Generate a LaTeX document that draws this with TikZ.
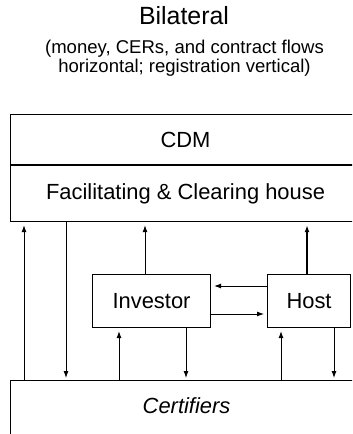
\documentclass[tikz,border=0pt]{standalone}
\usepackage{fontspec}
\setmainfont{Liberation Sans}
\usetikzlibrary{positioning,arrows.meta}

\tikzset{
  box/.style={draw, line width=1.1bp, inner sep=0pt, font=\fontsize{22}{26}\selectfont},
  flow/.style={-{Latex[length=7bp,width=5bp]}, line width=0.9bp, shorten >=3bp},
}

\begin{document}
\begin{tikzpicture}[x=1bp,y=-1bp]
        \useasboundingbox (0,0) rectangle (352,434);
        \clip (0,0) rectangle (352,434);

        % heading
        \node[font=\fontsize{25}{30}\selectfont, anchor=base] (title) at (184,25) {Bilateral};
        \node[font=\fontsize{18.6}{19}\selectfont, align=center, anchor=north, inner sep=0pt] (sub) at (184.5,39.5)
            {(money, CERs, and contract flows\\horizontal; registration vertical)};

        % clearing house on top
        \node[box, minimum width=350bp, minimum height=50bp, anchor=north west] (cdm) at (10,114) {CDM};
        \node[box, minimum width=350bp, minimum height=56bp, below=0pt of cdm] (fch) {Facilitating \& Clearing house};

        % parties
        \node[box, minimum width=118bp, minimum height=53bp, anchor=north west] (inv) at (92,274) {Investor};
        \node[box, minimum width=83bp, minimum height=53bp, anchor=north west] (host) at (267,274) {Host};

        % certifiers at the bottom
        \node[box, minimum width=352bp, anchor=north west, inner ysep=17bp, text height=16bp, text depth=40bp] (cert) at (10,380) {\textit{Certifiers}};

        % columns of the vertical flows
        \coordinate (a1) at (24,0);
        \coordinate (a2) at (66,0);
        \coordinate (i1) at (145,0);
        \coordinate (i2) at (119,0);
        \coordinate (i3) at (186,0);
        \coordinate (h1) at (307,0);
        \coordinate (h2) at (281,0);
        \coordinate (h3) at (334,0);

        % rows of the horizontal flows
        \coordinate (r1) at (0,286);
        \coordinate (r2) at (0,314);

        % registration
        \draw[flow] (a1 |- cert.north) -- (a1 |- fch.south);
        \draw[flow, shorten >=2bp] (a2 |- fch.south) -- (a2 |- cert.north);
        \draw[flow] (i1 |- inv.north) -- (i1 |- fch.south);
        \draw[flow, line width=1.6bp] (h1 |- host.north) -- (h1 |- fch.south);

        % money, CERs and contracts
        \draw[flow] (r1 -| host.west) -- (r1 -| inv.east);
        \draw[flow] (r2 -| inv.east) -- (r2 -| host.west);

        % certification
        \draw[flow] (i2 |- cert.north) -- (i2 |- inv.south);
        \draw[flow, shorten >=2bp] (i3 |- inv.south) -- (i3 |- cert.north);
        \draw[flow] (h2 |- cert.north) -- (h2 |- host.south);
        \draw[flow, shorten >=2bp] (h3 |- host.south) -- (h3 |- cert.north);
\end{tikzpicture}
\end{document}
